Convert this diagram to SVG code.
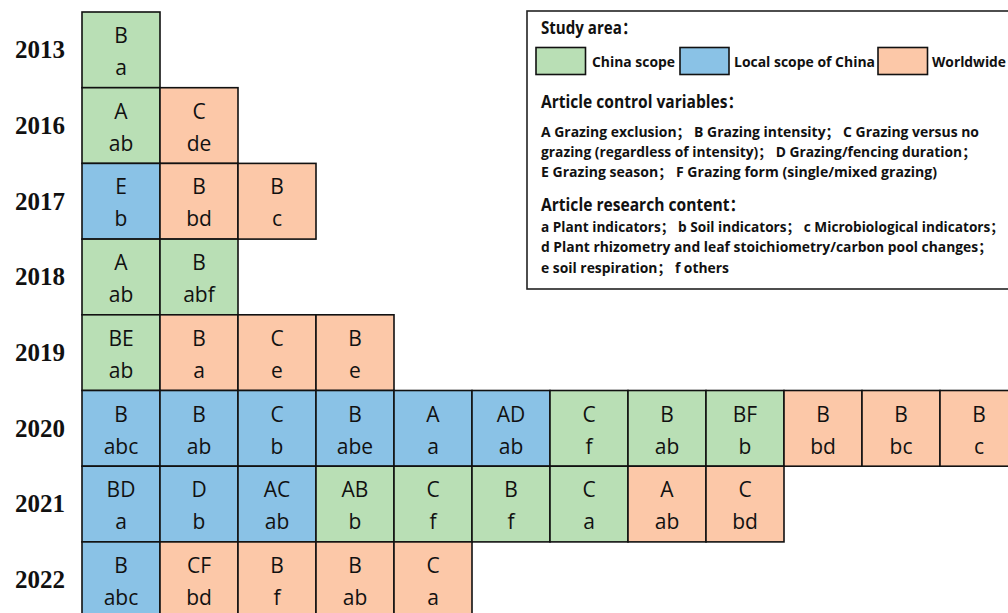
<svg xmlns="http://www.w3.org/2000/svg" width="1008" height="613" viewBox="0 0 1008 613">
<style>
.g{fill:#B9DFB5}.b{fill:#8AC2E6}.o{fill:#FCC8A8}
rect.c{stroke:#111;stroke-width:1.6}
.t{font-family:"Open Sans","Liberation Sans","Noto Sans CJK SC",sans-serif;font-size:21px;fill:#111;text-anchor:middle}
.y{font-family:"Liberation Serif",serif;font-weight:bold;font-size:25px;fill:#111;text-anchor:middle}
.h{font-family:"Open Sans","Liberation Sans","Noto Sans CJK SC",sans-serif;font-weight:bold;font-size:17px;fill:#111}
.l{font-family:"Open Sans","Liberation Sans","Noto Sans CJK SC",sans-serif;font-weight:bold;font-size:14px;fill:#111}
.s{font-family:"Open Sans","Liberation Sans","Noto Sans CJK SC",sans-serif;font-weight:bold;font-size:15px;fill:#111}
</style>
<rect width="1008" height="613" fill="#fff"/>
<g id="years">
<text class="y" x="40" y="58">2013</text>
<text class="y" x="40" y="134">2016</text>
<text class="y" x="40" y="210">2017</text>
<text class="y" x="40" y="285">2018</text>
<text class="y" x="40" y="361">2019</text>
<text class="y" x="40" y="437">2020</text>
<text class="y" x="40" y="512">2021</text>
<text class="y" x="40" y="588">2022</text>
</g>
<g id="legend">
<rect x="527" y="11" width="490" height="278" fill="#fff" stroke="#222" stroke-width="1.6"/>
<text class="h" x="541" y="34" textLength="96" lengthAdjust="spacingAndGlyphs">Study area：</text>
<rect class="c g" x="536" y="47.5" width="49.5" height="27"/>
<rect class="c b" x="680" y="47.5" width="49" height="27"/>
<rect class="c o" x="878" y="47.5" width="49.5" height="27"/>
<text class="s" x="592" y="67" textLength="83" lengthAdjust="spacingAndGlyphs">China scope</text>
<text class="s" x="734" y="67" textLength="141" lengthAdjust="spacingAndGlyphs">Local scope of China</text>
<text class="s" x="932" y="67" textLength="74" lengthAdjust="spacingAndGlyphs">Worldwide</text>
<text class="h" x="541" y="108" textLength="202" lengthAdjust="spacingAndGlyphs">Article control variables：</text>
<text class="l" x="541" y="137" textLength="438" lengthAdjust="spacingAndGlyphs">A Grazing exclusion；  B Grazing intensity；  C Grazing versus no</text>
<text class="l" x="541" y="157" textLength="435" lengthAdjust="spacingAndGlyphs">grazing (regardless of intensity)；  D Grazing/fencing duration；</text>
<text class="l" x="541" y="177" textLength="396" lengthAdjust="spacingAndGlyphs">E Grazing season；  F Grazing form (single/mixed grazing)</text>
<text class="h" x="541" y="211" textLength="204" lengthAdjust="spacingAndGlyphs">Article research content：</text>
<text class="l" x="541" y="232" textLength="463" lengthAdjust="spacingAndGlyphs">a Plant indicators；  b Soil indicators；  c Microbiological indicators；</text>
<text class="l" x="541" y="252" textLength="451" lengthAdjust="spacingAndGlyphs">d Plant rhizometry and leaf stoichiometry/carbon pool changes；</text>
<text class="l" x="541" y="273" textLength="188" lengthAdjust="spacingAndGlyphs">e soil respiration；  f others</text>
</g>
<g id="r2013">
<g id="c2013-1"><rect class="c g" x="82" y="12" width="78" height="75.7"/><text class="t" x="121" y="43">B</text><text class="t" x="121" y="75">a</text></g>
</g>
<g id="r2016">
<g id="c2016-1"><rect class="c g" x="82" y="87.7" width="78" height="75.7"/><text class="t" x="121" y="118.7">A</text><text class="t" x="121" y="150.7">ab</text></g>
<g id="c2016-2"><rect class="c o" x="160" y="87.7" width="78" height="75.7"/><text class="t" x="199" y="118.7">C</text><text class="t" x="199" y="150.7">de</text></g>
</g>
<g id="r2017">
<g id="c2017-1"><rect class="c b" x="82" y="163.4" width="78" height="75.7"/><text class="t" x="121" y="194.4">E</text><text class="t" x="121" y="226.4">b</text></g>
<g id="c2017-2"><rect class="c o" x="160" y="163.4" width="78" height="75.7"/><text class="t" x="199" y="194.4">B</text><text class="t" x="199" y="226.4">bd</text></g>
<g id="c2017-3"><rect class="c o" x="238" y="163.4" width="78" height="75.7"/><text class="t" x="277" y="194.4">B</text><text class="t" x="277" y="226.4">c</text></g>
</g>
<g id="r2018">
<g id="c2018-1"><rect class="c g" x="82" y="239.1" width="78" height="75.7"/><text class="t" x="121" y="270.1">A</text><text class="t" x="121" y="302.1">ab</text></g>
<g id="c2018-2"><rect class="c g" x="160" y="239.1" width="78" height="75.7"/><text class="t" x="199" y="270.1">B</text><text class="t" x="199" y="302.1">abf</text></g>
</g>
<g id="r2019">
<g id="c2019-1"><rect class="c g" x="82" y="314.8" width="78" height="75.7"/><text class="t" x="121" y="345.8">BE</text><text class="t" x="121" y="377.8">ab</text></g>
<g id="c2019-2"><rect class="c o" x="160" y="314.8" width="78" height="75.7"/><text class="t" x="199" y="345.8">B</text><text class="t" x="199" y="377.8">a</text></g>
<g id="c2019-3"><rect class="c o" x="238" y="314.8" width="78" height="75.7"/><text class="t" x="277" y="345.8">C</text><text class="t" x="277" y="377.8">e</text></g>
<g id="c2019-4"><rect class="c o" x="316" y="314.8" width="78" height="75.7"/><text class="t" x="355" y="345.8">B</text><text class="t" x="355" y="377.8">e</text></g>
</g>
<g id="r2020">
<g id="c2020-1"><rect class="c b" x="82" y="390.5" width="78" height="75.7"/><text class="t" x="121" y="421.5">B</text><text class="t" x="121" y="453.5">abc</text></g>
<g id="c2020-2"><rect class="c b" x="160" y="390.5" width="78" height="75.7"/><text class="t" x="199" y="421.5">B</text><text class="t" x="199" y="453.5">ab</text></g>
<g id="c2020-3"><rect class="c b" x="238" y="390.5" width="78" height="75.7"/><text class="t" x="277" y="421.5">C</text><text class="t" x="277" y="453.5">b</text></g>
<g id="c2020-4"><rect class="c b" x="316" y="390.5" width="78" height="75.7"/><text class="t" x="355" y="421.5">B</text><text class="t" x="355" y="453.5">abe</text></g>
<g id="c2020-5"><rect class="c b" x="394" y="390.5" width="78" height="75.7"/><text class="t" x="433" y="421.5">A</text><text class="t" x="433" y="453.5">a</text></g>
<g id="c2020-6"><rect class="c b" x="472" y="390.5" width="78" height="75.7"/><text class="t" x="511" y="421.5">AD</text><text class="t" x="511" y="453.5">ab</text></g>
<g id="c2020-7"><rect class="c g" x="550" y="390.5" width="78" height="75.7"/><text class="t" x="589" y="421.5">C</text><text class="t" x="589" y="453.5">f</text></g>
<g id="c2020-8"><rect class="c g" x="628" y="390.5" width="78" height="75.7"/><text class="t" x="667" y="421.5">B</text><text class="t" x="667" y="453.5">ab</text></g>
<g id="c2020-9"><rect class="c g" x="706" y="390.5" width="78" height="75.7"/><text class="t" x="745" y="421.5">BF</text><text class="t" x="745" y="453.5">b</text></g>
<g id="c2020-10"><rect class="c o" x="784" y="390.5" width="78" height="75.7"/><text class="t" x="823" y="421.5">B</text><text class="t" x="823" y="453.5">bd</text></g>
<g id="c2020-11"><rect class="c o" x="862" y="390.5" width="78" height="75.7"/><text class="t" x="901" y="421.5">B</text><text class="t" x="901" y="453.5">bc</text></g>
<g id="c2020-12"><rect class="c o" x="940" y="390.5" width="78" height="75.7"/><text class="t" x="979" y="421.5">B</text><text class="t" x="979" y="453.5">c</text></g>
</g>
<g id="r2021">
<g id="c2021-1"><rect class="c b" x="82" y="466.2" width="78" height="75.7"/><text class="t" x="121" y="497.2">BD</text><text class="t" x="121" y="529.2">a</text></g>
<g id="c2021-2"><rect class="c b" x="160" y="466.2" width="78" height="75.7"/><text class="t" x="199" y="497.2">D</text><text class="t" x="199" y="529.2">b</text></g>
<g id="c2021-3"><rect class="c b" x="238" y="466.2" width="78" height="75.7"/><text class="t" x="277" y="497.2">AC</text><text class="t" x="277" y="529.2">ab</text></g>
<g id="c2021-4"><rect class="c g" x="316" y="466.2" width="78" height="75.7"/><text class="t" x="355" y="497.2">AB</text><text class="t" x="355" y="529.2">b</text></g>
<g id="c2021-5"><rect class="c g" x="394" y="466.2" width="78" height="75.7"/><text class="t" x="433" y="497.2">C</text><text class="t" x="433" y="529.2">f</text></g>
<g id="c2021-6"><rect class="c g" x="472" y="466.2" width="78" height="75.7"/><text class="t" x="511" y="497.2">B</text><text class="t" x="511" y="529.2">f</text></g>
<g id="c2021-7"><rect class="c g" x="550" y="466.2" width="78" height="75.7"/><text class="t" x="589" y="497.2">C</text><text class="t" x="589" y="529.2">a</text></g>
<g id="c2021-8"><rect class="c o" x="628" y="466.2" width="78" height="75.7"/><text class="t" x="667" y="497.2">A</text><text class="t" x="667" y="529.2">ab</text></g>
<g id="c2021-9"><rect class="c o" x="706" y="466.2" width="78" height="75.7"/><text class="t" x="745" y="497.2">C</text><text class="t" x="745" y="529.2">bd</text></g>
</g>
<g id="r2022">
<g id="c2022-1"><rect class="c b" x="82" y="541.9" width="78" height="75.7"/><text class="t" x="121" y="572.9">B</text><text class="t" x="121" y="604.9">abc</text></g>
<g id="c2022-2"><rect class="c o" x="160" y="541.9" width="78" height="75.7"/><text class="t" x="199" y="572.9">CF</text><text class="t" x="199" y="604.9">bd</text></g>
<g id="c2022-3"><rect class="c o" x="238" y="541.9" width="78" height="75.7"/><text class="t" x="277" y="572.9">B</text><text class="t" x="277" y="604.9">f</text></g>
<g id="c2022-4"><rect class="c o" x="316" y="541.9" width="78" height="75.7"/><text class="t" x="355" y="572.9">B</text><text class="t" x="355" y="604.9">ab</text></g>
<g id="c2022-5"><rect class="c o" x="394" y="541.9" width="78" height="75.7"/><text class="t" x="433" y="572.9">C</text><text class="t" x="433" y="604.9">a</text></g>
</g>
<g id="connectors"></g>
</svg>
